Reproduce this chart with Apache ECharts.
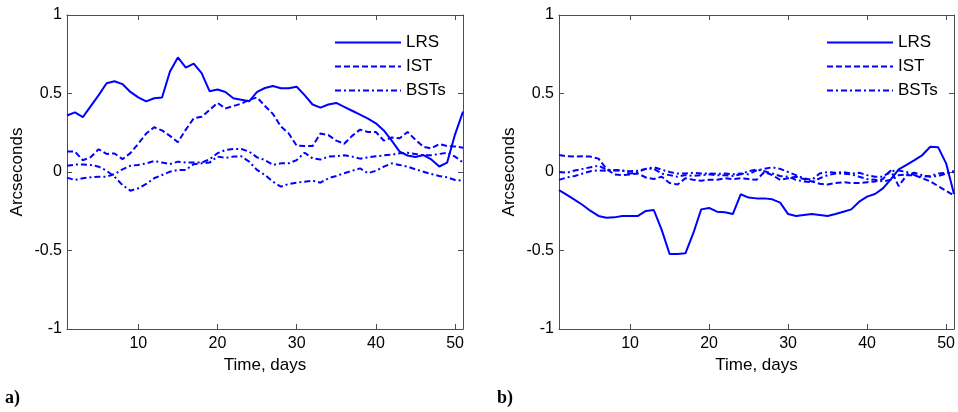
<!DOCTYPE html>
<html>
<head>
<meta charset="utf-8">
<script src="https://cdn.jsdelivr.net/npm/echarts@6/dist/echarts.min.js"></script>
<style>
html,body{margin:0;padding:0;background:#fff;}
#c{width:958px;height:412px;}
</style>
</head>
<body>
<div id="c"></div>
<script>
var days = [1,2,3,4,5,6,7,8,9,10,11,12,13,14,15,16,17,18,19,20,21,22,23,24,25,26,27,28,29,30,31,32,33,34,35,36,37,38,39,40,41,42,43,44,45,46,47,48,49,50,51];
var xTicks = [10,20,30,40,50];
var legendNames = ['LRS','IST','BSTs'];

// Panel a)
var lrsA = [0.36,0.38,0.35,0.42,0.49,0.565,0.578,0.56,0.51,0.475,0.45,0.47,0.475,0.64,0.73,0.665,0.69,0.63,0.515,0.525,0.51,0.47,0.46,0.45,0.51,0.535,0.548,0.533,0.533,0.543,0.49,0.43,0.41,0.43,0.44,0.415,0.39,0.365,0.34,0.31,0.265,0.2,0.13,0.105,0.095,0.108,0.08,0.035,0.06,0.24,0.385];
var istA = [0.13,0.13,0.075,0.095,0.145,0.115,0.118,0.082,0.12,0.18,0.245,0.285,0.265,0.23,0.19,0.27,0.342,0.352,0.395,0.44,0.405,0.42,0.435,0.46,0.475,0.42,0.37,0.29,0.245,0.168,0.165,0.165,0.245,0.235,0.2,0.18,0.23,0.27,0.255,0.255,0.2,0.22,0.215,0.255,0.205,0.16,0.15,0.178,0.165,0.162,0.155];
var bst1A = [0.04,0.047,0.047,0.045,0.034,0.008,-0.03,-0.083,-0.119,-0.104,-0.076,-0.04,-0.019,0.002,0.013,0.013,0.05,0.055,0.06,0.098,0.09,0.098,0.1,0.066,0.013,-0.019,-0.062,-0.093,-0.076,-0.068,-0.062,-0.055,-0.068,-0.04,-0.025,-0.008,0.008,0.023,-0.008,0.008,0.034,0.055,0.045,0.034,0.017,0.002,-0.013,-0.025,-0.034,-0.051,-0.055];
var bst2A = [-0.036,-0.051,-0.04,-0.034,-0.03,-0.03,-0.013,0.017,0.04,0.045,0.055,0.07,0.06,0.05,0.066,0.06,0.06,0.06,0.08,0.12,0.14,0.146,0.146,0.13,0.093,0.076,0.045,0.055,0.055,0.076,0.123,0.087,0.08,0.098,0.1,0.106,0.098,0.085,0.093,0.1,0.106,0.11,0.12,0.123,0.115,0.106,0.106,0.115,0.123,0.098,0.06];

// Panel b)
var lrsB = [-0.115,-0.146,-0.178,-0.21,-0.248,-0.28,-0.291,-0.289,-0.28,-0.28,-0.28,-0.248,-0.242,-0.369,-0.522,-0.522,-0.518,-0.39,-0.238,-0.229,-0.253,-0.257,-0.268,-0.142,-0.163,-0.168,-0.168,-0.174,-0.195,-0.268,-0.28,-0.274,-0.268,-0.274,-0.28,-0.268,-0.253,-0.238,-0.189,-0.157,-0.14,-0.104,-0.047,0.017,0.045,0.076,0.108,0.161,0.157,0.055,-0.14];
var istB = [0.108,0.1,0.098,0.1,0.098,0.085,0.02,-0.015,-0.02,-0.015,-0.01,-0.035,-0.045,-0.03,-0.07,-0.08,-0.04,-0.05,-0.055,-0.05,-0.05,-0.04,-0.045,-0.04,-0.045,-0.05,0.0,-0.02,-0.05,-0.04,-0.03,-0.045,-0.06,-0.075,-0.08,-0.07,-0.065,-0.07,-0.07,-0.065,-0.06,-0.045,0.01,-0.09,-0.02,-0.02,-0.04,-0.06,-0.09,-0.12,-0.15];
var bst1B = [0.0,-0.005,0.01,0.02,0.03,0.04,0.015,0.01,0.01,0.005,0.008,0.02,0.03,0.015,0.0,-0.01,-0.01,-0.005,-0.01,-0.01,-0.012,-0.01,-0.015,-0.01,-0.015,0.01,0.02,0.03,0.02,0.0,-0.02,-0.04,-0.05,-0.01,0.0,-0.005,0.0,-0.01,-0.005,-0.02,-0.03,-0.03,0.005,0.01,0.0,-0.02,-0.03,-0.025,-0.01,-0.005,0.005];
var bst2B = [-0.05,-0.035,-0.025,-0.01,0.005,0.01,0.008,0.012,0.01,-0.01,0.0,0.02,0.02,-0.01,-0.02,-0.03,-0.02,-0.025,-0.02,-0.015,-0.02,-0.02,-0.025,-0.015,0.005,0.015,0.005,-0.01,-0.025,-0.03,-0.05,-0.06,-0.065,-0.04,-0.02,-0.01,-0.01,-0.015,-0.03,-0.045,-0.05,-0.06,-0.05,-0.02,-0.015,-0.005,-0.02,-0.03,-0.025,-0.01,0.0];

function pairs(vals){ return days.map(function(d,i){ return [d, vals[i]]; }); }

var BLUE = '#0000ff';
var FRAME = '#4d4d4d';
var FONT = 'Liberation Sans, Arial, sans-serif';
var DASH = [6,3];
var DASHDOT = [6,3,2,3];

function mkSeries(name, vals, dash, gi){
  return {
    name: name, type: 'line', xAxisIndex: gi*2, yAxisIndex: gi*2,
    data: pairs(vals), symbol: 'none', showSymbol: false, clip: true,
    lineStyle: {color: BLUE, width: 2, type: dash},
    itemStyle: {color: BLUE, opacity: 0},
    emphasis: {disabled: true}, animation: false
  };
}

function xAxes(gi){
  return [
    {gridIndex: gi, type: 'value', min: 1, max: 51, position: 'bottom',
     name: 'Time, days', nameLocation: 'middle', nameGap: 23,
     nameTextStyle: {fontFamily: FONT, fontSize: 17, color: '#000'},
     axisLine: {show: true, onZero: false, lineStyle: {color: FRAME, width: 1}},
     axisTick: {show: true, inside: true, length: 5, customValues: xTicks, lineStyle: {color: FRAME}},
     axisLabel: {show: true, customValues: xTicks, margin: 7, fontFamily: FONT, fontSize: 16, color: '#000'},
     splitLine: {show: false}},
    {gridIndex: gi, type: 'value', min: 1, max: 51, position: 'top',
     axisLine: {show: true, onZero: false, lineStyle: {color: FRAME, width: 1}},
     axisTick: {show: true, inside: true, length: 5, customValues: xTicks, lineStyle: {color: FRAME}},
     axisLabel: {show: false}, splitLine: {show: false}}
  ];
}
function yAxes(gi){
  return [
    {gridIndex: gi, type: 'value', min: -1, max: 1, interval: 0.5, position: 'left',
     name: 'Arcseconds', nameLocation: 'middle', nameGap: 41, nameRotate: 90,
     nameTextStyle: {fontFamily: FONT, fontSize: 17, color: '#000'},
     axisLine: {show: true, onZero: false, lineStyle: {color: FRAME, width: 1}},
     axisTick: {show: true, inside: true, length: 5, lineStyle: {color: FRAME}},
     axisLabel: {show: true, margin: 5, fontFamily: FONT, fontSize: 16, color: '#000'},
     splitLine: {show: false}},
    {gridIndex: gi, type: 'value', min: -1, max: 1, interval: 0.5, position: 'right',
     axisLine: {show: true, onZero: false, lineStyle: {color: FRAME, width: 1}},
     axisTick: {show: true, inside: true, length: 5, lineStyle: {color: FRAME}},
     axisLabel: {show: false}, splitLine: {show: false}}
  ];
}

var chart = echarts.init(document.getElementById('c'), null, {renderer: 'canvas'});
var legendCommon = {
  orient: 'vertical', itemWidth: 66, itemHeight: 14, itemGap: 7,
  selectedMode: false, data: legendNames,
  itemStyle: {opacity: 0},
  textStyle: {fontFamily: FONT, fontSize: 17, color: '#000'}
};
chart.setOption({
  animation: false,
  backgroundColor: '#fff',
  grid: [
    {left: 67, top: 15, width: 396, height: 314, containLabel: false},
    {left: 559, top: 15, width: 397, height: 314, containLabel: false}
  ],
  xAxis: xAxes(0).concat(xAxes(1)),
  yAxis: yAxes(0).concat(yAxes(1)),
  legend: [
    Object.assign({left: 329, top: 29}, legendCommon),
    Object.assign({left: 821, top: 29}, legendCommon)
  ],
  graphic: [
    {type: 'text', left: 5, top: 389, style: {text: 'a)', font: 'bold 18px "Liberation Serif", "DejaVu Serif", serif', fill: '#000'}},
    {type: 'text', left: 497, top: 389, style: {text: 'b)', font: 'bold 18px "Liberation Serif", "DejaVu Serif", serif', fill: '#000'}}
  ],
  series: [
    mkSeries('LRS', lrsA, 'solid', 0),
    mkSeries('IST', istA, DASH, 0),
    mkSeries('BSTs', bst1A, DASHDOT, 0),
    mkSeries('BSTs', bst2A, DASHDOT, 0),
    mkSeries('LRS', lrsB, 'solid', 1),
    mkSeries('IST', istB, DASH, 1),
    mkSeries('BSTs', bst1B, DASHDOT, 1),
    mkSeries('BSTs', bst2B, DASHDOT, 1)
  ]
});
</script>
</body>
</html>
